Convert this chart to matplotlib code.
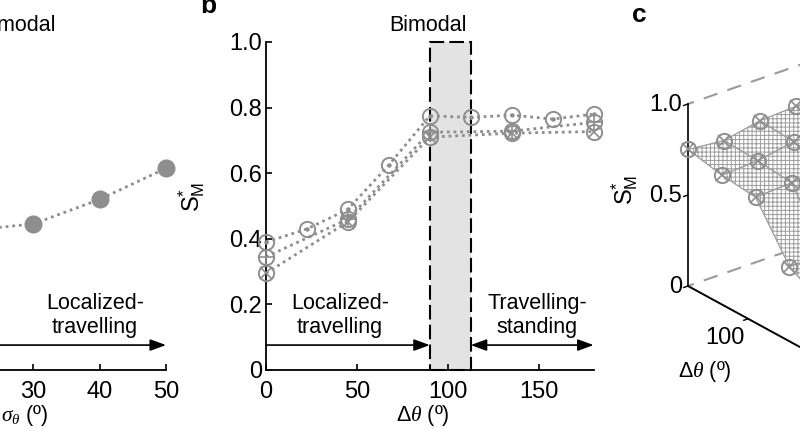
import numpy as np
import matplotlib
matplotlib.use("Agg")
import matplotlib.pyplot as plt
from matplotlib.patches import Rectangle
from mpl_toolkits.mplot3d import proj3d

plt.rcParams["font.family"] = ["Liberation Sans", "DejaVu Sans"]
plt.rcParams["mathtext.fontset"] = "custom"
plt.rcParams["mathtext.rm"] = "Liberation Sans"
plt.rcParams["mathtext.sf"] = "Liberation Sans"
plt.rcParams["mathtext.it"] = "Liberation Serif:italic"
plt.rcParams["hatch.color"] = "#9c9c9c"
plt.rcParams["hatch.linewidth"] = 0.7

# panel a: S*_M against sigma_theta
a_sigma = [10, 20, 30, 40, 50]
a_s = [0.41, 0.425, 0.445, 0.52, 0.615]

# panel b: S*_M against delta theta, three runs
b_dtheta_fine = [0, 22.5, 45, 67.5, 90, 112.5, 135, 157.5, 180]
b_dtheta = [0, 45, 90, 135, 180]
b_dot = [0.39, 0.43, 0.49, 0.625, 0.775, 0.77, 0.777, 0.765, 0.78]
b_plus = [0.345, 0.46, 0.725, 0.728, 0.755]
b_cross = [0.295, 0.452, 0.71, 0.722, 0.727]
bimodal = (90, 112.5)

# panel c: surface over (delta theta, sigma_theta)
c_dtheta = [0, 45, 90, 135, 180]
c_sigma = [10, 20, 30, 40, 50]
c_s = [[0.27, 0.44, 0.74, 0.77, 0.78],
       [0.28, 0.43, 0.73, 0.76, 0.78],
       [0.28, 0.42, 0.72, 0.755, 0.77],
       [0.29, 0.41, 0.70, 0.72, 0.73],
       [0.30, 0.41, 0.69, 0.71, 0.75]]

GRAY = "#8e8e8e"
W, H = 800, 429
FS = 15.5
TFS = 17

fig = plt.figure(figsize=(W / 100, H / 100), dpi=100)


def px_box(x0, y0, x1, y1):
    return [x0 / W, (H - y1) / H, (x1 - x0) / W, (y1 - y0) / H]


def style(ax):
    ax.spines[["top", "right"]].set_visible(False)
    ax.spines[["left", "bottom"]].set_linewidth(1.3)
    ax.tick_params(direction="in", length=4, width=1.2, labelsize=TFS)
    ax.tick_params(axis="x", pad=8)
    ax.tick_params(axis="y", pad=3)


def ring_series(ax, x, y, inner, ms_inner):
    ax.plot(x, y, ls=(0, (1, 1.4)), lw=2, color=GRAY, zorder=2, clip_on=False)
    ax.plot(x, y, ls="none", marker="o", ms=11, mfc="none", mec=GRAY, mew=1.4,
            zorder=3, clip_on=False)
    ax.plot(x, y, ls="none", marker=inner, ms=ms_inner, color=GRAY, mew=1.2,
            zorder=3, clip_on=False)


def arrow(ax, x0, x1, y, style_):
    ax.annotate("", xy=(x1, y), xytext=(x0, y), annotation_clip=False,
                arrowprops=dict(arrowstyle=style_ + ",head_length=0.6,head_width=0.22",
                                color="k", lw=1.2, shrinkA=0, shrinkB=0, mutation_scale=16))


# ---- panel a (mostly cut off) ----
axa = fig.add_axes(px_box(-166.5, 42, 166, 370))
style(axa)
axa.spines["left"].set_visible(False)
axa.set_xlim(0, 50)
axa.set_ylim(0, 1)
axa.set_xticks([0, 10, 20, 30, 40, 50])
axa.set_yticks([])
axa.plot(a_sigma, a_s, ls=(0, (1, 1.4)), lw=2, color=GRAY, marker="o", ms=12,
         mfc=GRAY, mec=GRAY, clip_on=False)
arrow(axa, -5, 50, 0.076, "-|>")
axa.text(39.3, 0.098, "Localized-\ntravelling", ha="center", va="bottom", fontsize=FS)
axa.text(27.6, 1.034, "Bimodal", ha="center", va="baseline", fontsize=FS)
axa.set_xlabel(r"$\sigma_\theta$ (º)", fontsize=FS)
axa.xaxis.set_label_coords(0.575, -0.1)

# ---- panel b ----
axb = fig.add_axes(px_box(266, 42, 593.6, 370))
style(axb)
axb.set_xlim(0, 180)
axb.set_ylim(0, 1)
axb.set_xticks([0, 50, 100, 150])
axb.set_yticks([0, 0.2, 0.4, 0.6, 0.8, 1.0])
axb.set_yticklabels(["0", "0.2", "0.4", "0.6", "0.8", "1.0"])
axb.axvspan(*bimodal, color="#e3e3e3", zorder=0, lw=0)
axb.add_patch(Rectangle((bimodal[0], 0), bimodal[1] - bimodal[0], 1.0, fill=False,
                        ec="k", lw=1.5, ls=(0, (7, 2.5)), zorder=1, clip_on=False))
ring_series(axb, b_dtheta, b_cross, "x", 8)
ring_series(axb, b_dtheta, b_plus, "+", 11)
ring_series(axb, b_dtheta_fine, b_dot, ".", 4)
arrow(axb, 0, bimodal[0], 0.076, "-|>")
arrow(axb, bimodal[1], 180, 0.076, "<|-|>")
axb.text(40.6, 0.098, "Localized-\ntravelling", ha="center", va="bottom", fontsize=FS)
axb.text(149, 0.098, "Travelling-\nstanding", ha="center", va="bottom", fontsize=FS)
axb.text(89, 1.034, "Bimodal", ha="center", va="baseline", fontsize=FS)
axb.set_xlabel(r"$\Delta\theta$ (º)", fontsize=FS)
axb.xaxis.set_label_coords(0.479, -0.1)
axb.set_ylabel(r"S$^{*}_{\rm M}$", fontsize=TFS)
axb.yaxis.set_label_coords(-0.18, 0.527)

fig.text(200 / W, (H - 13) / H, "b", fontsize=19, fontweight="bold", va="baseline")
fig.text(632 / W, (H - 22) / H, "c", fontsize=19, fontweight="bold", va="baseline")

# ---- panel c (3D, cut off on the right) ----
axc = fig.add_axes([0.8, 0.2, 0.4, 0.4], projection="3d", proj_type="ortho")
axc.view_init(elev=25.9, azim=141.3)
axc.set_box_aspect((216, 184, 202))
axc.set_xlim(0, 180)
axc.set_ylim(10, 50)
axc.set_zlim(0, 1)
axc.set_axis_off()
axc.computed_zorder = False
axc.patch.set_alpha(0)

X, Y = np.meshgrid(c_dtheta, c_sigma)
Z = np.array(c_s)
d0, s0 = max(c_dtheta), max(c_sigma)

axc.plot([d0, d0], [s0, min(c_sigma)], [1, 1], color="#9a9a9a", lw=1.5, ls=(4, (7, 5)), zorder=1)
axc.plot([d0, d0], [s0, min(c_sigma)], [0, 0], color="#9a9a9a", lw=1.5, ls=(4, (7, 5)), zorder=1)
axc.plot_surface(X, Y, Z, color="white", edgecolor="#9c9c9c", lw=0.9, hatch="++++",
                 shade=False, zorder=2)
axc.plot([d0, 0], [s0, s0], [0, 0], color="k", lw=1.4, zorder=3)
axc.plot([d0, d0], [s0, s0], [0, 1], color="k", lw=1.2, zorder=3)
for z in [0, 0.5, 1.0]:
    axc.plot([d0, d0], [s0, s0 + 1.2], [z, z], color="k", lw=1.0, zorder=3)
axc.plot([100, 100], [s0, s0 + 1.2], [0, 0], color="k", lw=1.0, zorder=3)
axc.plot(X.ravel(), Y.ravel(), Z.ravel(), ls="none", marker="o", ms=11, mfc="none",
         mec=GRAY, mew=1.4, zorder=4)
axc.plot(X.ravel(), Y.ravel(), Z.ravel(), ls="none", marker="x", ms=8, color=GRAY,
         mew=1.2, zorder=4)


def to_px(x, y, z):
    xs, ys, _ = proj3d.proj_transform(np.atleast_1d(x), np.atleast_1d(y),
                                      np.atleast_1d(z), axc.get_proj())
    return axc.transData.transform(np.column_stack([xs, ys]))[0]


# scale the 3D axes so 0..1 in S spans the same height as in the picture,
# then move it so the origin corner sits in the right place
fig.canvas.draw()
p0, p1 = to_px(d0, s0, 0), to_px(d0, s0, 1)
k = 182 / (p1[1] - p0[1])
pos = axc.get_position(original=True)
axc.set_position([pos.x0, pos.y0, pos.width * k, pos.height * k])
fig.canvas.draw()
p0 = to_px(d0, s0, 0)
pos = axc.get_position(original=True)
axc.set_position([pos.x0 + (688 - p0[0]) / W, pos.y0 + (H - 286 - p0[1]) / H,
                  pos.width, pos.height])
fig.canvas.draw()


def label3d(x, y, z, s, dx, dy, **kw):
    xs, ys, _ = proj3d.proj_transform(np.atleast_1d(x), np.atleast_1d(y),
                                      np.atleast_1d(z), axc.get_proj())
    axc.annotate(s, xy=(xs[0], ys[0]), xytext=(dx, dy), textcoords="offset pixels",
                 annotation_clip=False, fontsize=TFS, **kw)


for z, lab in [(0, "0"), (0.5, "0.5"), (1.0, "1.0")]:
    label3d(d0, s0, z, lab, -6, -1, ha="right", va="center")
label3d(100, s0, 0, "100", -3, -8, ha="right", va="top")

fig.text(625 / W, (H - 190) / H, r"S$^{*}_{\rm M}$", fontsize=TFS, rotation=90,
         ha="center", va="center")
fig.text(705 / W, (H - 371) / H, r"$\Delta\theta$ (º)", fontsize=FS, ha="center", va="center")

fig.savefig("out.png", dpi=100)
